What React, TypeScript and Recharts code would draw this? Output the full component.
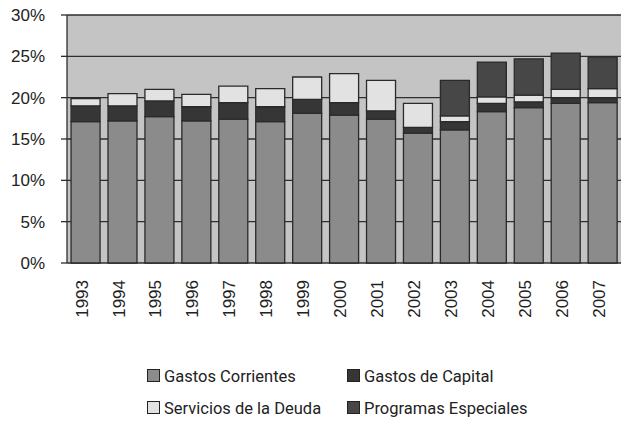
import React from "react";
import { BarChart, Bar, XAxis, YAxis, CartesianGrid, Legend } from "recharts";

const years = ["1993", "1994", "1995", "1996", "1997", "1998", "1999", "2000", "2001", "2002", "2003", "2004", "2005", "2006", "2007"];
const corrientes = [17.1, 17.2, 17.7, 17.2, 17.4, 17.1, 18.1, 17.9, 17.4, 15.7, 16.1, 18.3, 18.8, 19.3, 19.4];
const capital = [1.9, 1.8, 1.9, 1.7, 2.0, 1.8, 1.7, 1.5, 1.0, 0.7, 1.0, 1.0, 0.7, 0.7, 0.6];
const deuda = [0.9, 1.5, 1.4, 1.5, 2.0, 2.2, 2.7, 3.5, 3.7, 2.9, 0.7, 0.8, 0.8, 1.0, 1.1];
const especiales = [0, 0, 0, 0, 0, 0, 0, 0, 0, 0, 4.3, 4.2, 4.4, 4.4, 3.8];
const yTicks = [0, 5, 10, 15, 20, 25, 30];
const edgeTicks = years.map((_, i) => i).concat(years.length);

const series = [
  { key: "corrientes", name: "Gastos Corrientes", fill: "#8b8b8b" },
  { key: "capital", name: "Gastos de Capital", fill: "#363636" },
  { key: "deuda", name: "Servicios de la Deuda", fill: "#e2e2e2" },
  { key: "especiales", name: "Programas Especiales", fill: "#474747" },
];

const data = years.map((year, i) => ({
  year,
  corrientes: corrientes[i],
  capital: capital[i],
  deuda: deuda[i],
  especiales: especiales[i],
}));

const legendFont = "Roboto, 'Liberation Sans', Arial, sans-serif";
const axisFont = "'Liberation Sans', Arial, sans-serif";

function YearTick({ x, y, payload }: any) {
  return (
    <g transform={`translate(${x - 4},${y + 9})`}>
      <text transform="rotate(-90)" textAnchor="end" dy="0.36em" fontSize={17} fill="#222" fontFamily={axisFont}>
        {payload.value}
      </text>
    </g>
  );
}

function Swatch({ color }: { color: string }) {
  return (
    <span
      style={{
        display: "inline-block",
        width: 11,
        height: 11,
        background: color,
        border: "1px solid #222",
        marginRight: 4,
        verticalAlign: "middle",
        position: "relative",
        top: -1,
      }}
    />
  );
}

function ChartLegend() {
  const rows = [
    [series[0], series[1]],
    [series[2], series[3]],
  ];
  return (
    <div style={{ height: 100, position: "relative", fontFamily: legendFont, fontSize: 16.5, color: "#222" }}>
      {rows.map((row, r) => (
        <div key={r} style={{ position: "absolute", top: 41 + r * 32, left: 0, width: 621, height: 24 }}>
          {row.map((s, c) => (
            <div key={s.key} style={{ position: "absolute", left: c === 0 ? 147 : 347, whiteSpace: "nowrap" }}>
              <Swatch color={s.fill} />
              <span style={{ verticalAlign: "middle" }}>{s.name}</span>
            </div>
          ))}
        </div>
      ))}
    </div>
  );
}

export default function App() {
  return (
    <div style={{ position: "absolute", left: 0, top: 0, background: "#fff" }}>
      <BarChart width={621} height={425} data={data} margin={{ top: 15, right: 0, left: 0, bottom: 0 }} barCategoryGap="11%">
        <CartesianGrid vertical={false} stroke="#2e2e2e" strokeWidth={1.3} fill="#c4c4c4" fillOpacity={1} />
        <XAxis
          xAxisId="edge"
          type="number"
          domain={[0, years.length]}
          ticks={edgeTicks}
          tick={false}
          height={0}
          tickSize={7}
          stroke="#2e2e2e"
          strokeWidth={1.3}
          allowDataOverflow
        />
        <XAxis dataKey="year" height={62} axisLine={false} tickLine={false} tick={<YearTick />} interval={0} />
        <YAxis
          domain={[0, 30]}
          ticks={yTicks}
          tickFormatter={(v: number) => `${v}%`}
          width={67}
          tickSize={6}
          tickMargin={16}
          stroke="#2e2e2e"
          strokeWidth={1.3}
          tick={{ fontSize: 17, fill: "#222", fontFamily: axisFont }}
        />
        {series.map((s) => (
          <Bar key={s.key} dataKey={s.key} name={s.name} stackId="g" fill={s.fill} stroke="#2a2a2a" strokeWidth={1.3} isAnimationActive={false} />
        ))}
        <Legend verticalAlign="bottom" content={<ChartLegend />} wrapperStyle={{ left: 0, width: 621 }} />
      </BarChart>
    </div>
  );
}
